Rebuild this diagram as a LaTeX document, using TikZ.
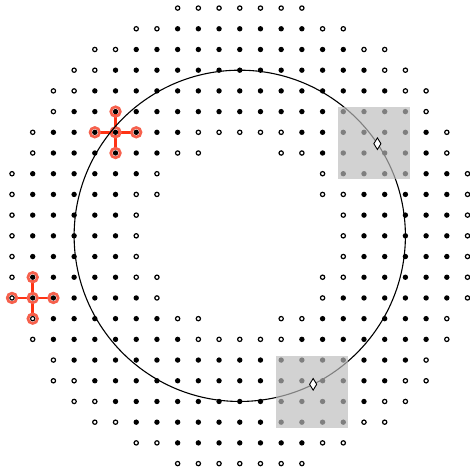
\documentclass[tikz,border=0pt]{standalone}
\usetikzlibrary{shapes.geometric}
\definecolor{crossred}{RGB}{255,51,20}
\definecolor{ringred}{RGB}{246,96,76}
\tikzset{
 fdot/.style={circle,fill=black,inner sep=0pt,minimum size=5.4pt},
 odot/.style={circle,draw=black,fill=white,line width=1.2pt,inner sep=0pt,minimum size=4.3pt},
 bigcircle/.style={draw=black,line width=1.1pt},
 crossline/.style={draw=crossred,line width=2.6pt},
 ring/.style={draw=ringred,line width=2.7pt},
 shade/.style={fill=black!26,fill opacity=0.675},
 marker/.style={diamond,draw=black,fill=white,line width=0.9pt,inner sep=0pt,minimum width=7.5pt,minimum height=12pt}
}
\begin{document}
\begin{tikzpicture}[x=20.73pt,y=20.73pt]
\useasboundingbox (-11.58,-11.24) rectangle (11.12,11.39);
\foreach \i in {-11,...,11}{
 \foreach \j in {-11,...,11}{
  \pgfmathtruncatemacro{\dd}{\i*\i+\j*\j}
  \ifnum\dd>18
   \ifnum\dd<31 \node[odot] (d\i y\j) at (\i,\j) {};\fi
   \ifnum\dd>30 \ifnum\dd<111 \node[fdot] (d\i y\j) at (\i,\j) {};\fi\fi
   \ifnum\dd>110 \ifnum\dd<134 \node[odot] (d\i y\j) at (\i,\j) {};\fi\fi
  \fi
 }
}
% crosses
\draw[crossline] (d-6y5) -- (d-7y5);
\draw[crossline] (d-6y5) -- (d-5y5);
\draw[crossline] (d-6y5) -- (d-6y6);
\draw[crossline] (d-6y5) -- (d-6y4);
\draw[crossline] (d-10y-3) -- (d-11y-3);
\draw[crossline] (d-10y-3) -- (d-9y-3);
\draw[crossline] (d-10y-3) -- (d-10y-2);
\draw[crossline] (d-10y-3) -- (d-10y-4);
\foreach \n in {d-6y5,d-7y5,d-5y5,d-6y6,d-6y4,d-10y-3,d-11y-3,d-9y-3,d-10y-2,d-10y-4}
  \draw[ring] (\n.center) circle[radius=4.8pt];
% big circle
\coordinate (o) at (0,0);
\draw[bigcircle] (o) circle[radius=8];
% shaded squares
\fill[shade] (4.76,2.76) rectangle (8.24,6.24);
\fill[shade] (1.76,-9.26) rectangle (5.24,-5.78);
% markers
\node[marker] (m1) at (33.8:8) {};
\node[marker] (m2) at (-63.7:8) {};
\end{tikzpicture}
\end{document}
